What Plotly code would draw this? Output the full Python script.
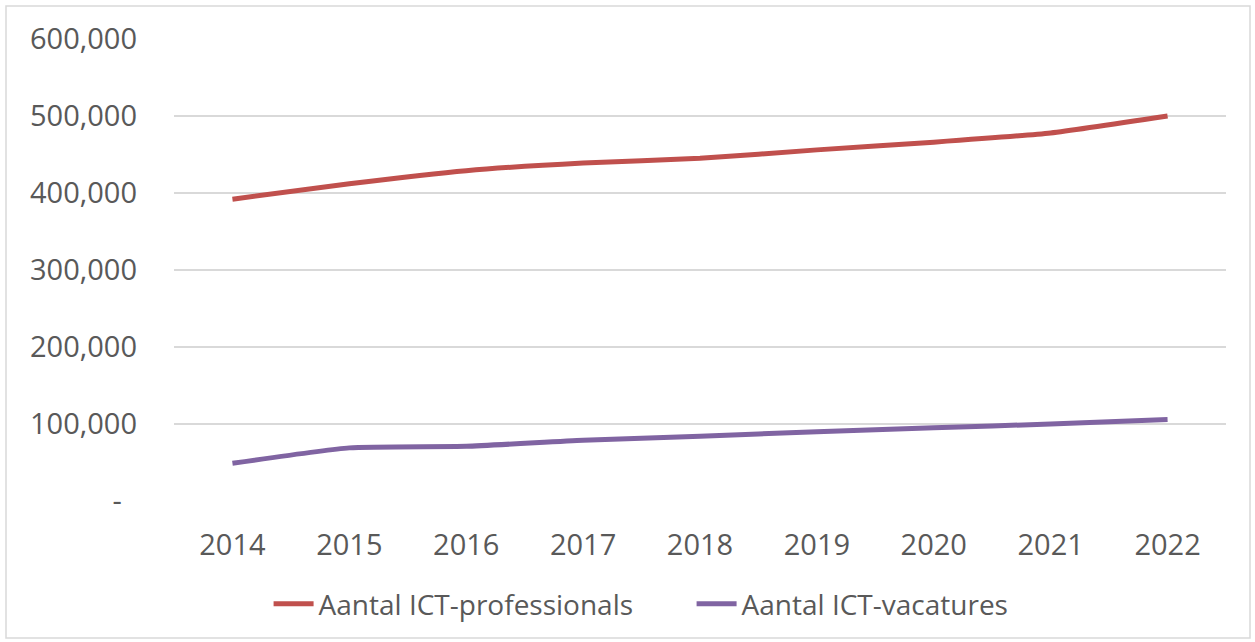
import plotly.graph_objects as go

years = ["2014", "2015", "2016", "2017", "2018", "2019", "2020", "2021", "2022"]
professionals = [392000, 412000, 429000, 439000, 445000, 456000, 466000, 478000, 500000]
vacatures = [49000, 69000, 71000, 79000, 84000, 90000, 95000, 100000, 106000]

y_ticks = [0, 100000, 200000, 300000, 400000, 500000, 600000]
y_ticktext = ["-\u00a0\u00a0", "100,000", "200,000", "300,000", "400,000", "500,000", "600,000"]

W, H = 1255, 642
L, R, T, B = 174, 29, 39, 141
pw, ph = W - L - R, H - T - B

fig = go.Figure()
fig.add_trace(go.Scatter(x=years, y=professionals, mode="lines", name="Aantal ICT-professionals",
                         line=dict(color="#C0504D", width=5, shape="spline", smoothing=0.5)))
fig.add_trace(go.Scatter(x=years, y=vacatures, mode="lines", name="Aantal ICT-vacatures",
                         line=dict(color="#8064A2", width=5, shape="spline", smoothing=0.5)))

# light grey border round the whole chart area
fig.add_shape(type="rect", xref="paper", yref="paper",
              x0=(6 - L) / pw, x1=(1250 - L) / pw,
              y0=(H - B - 638) / ph, y1=(H - B - 6) / ph,
              line=dict(color="#D9D9D9", width=1.5), fillcolor="rgba(0,0,0,0)", layer="below")

fig.update_layout(
    width=W, height=H,
    margin=dict(l=L, r=R, t=T, b=B),
    paper_bgcolor="white", plot_bgcolor="white",
    font=dict(family="Open Sans", size=29, color="#595959"),
    showlegend=True,
    legend=dict(orientation="h", x=0.492, xanchor="center", y=-0.223, yanchor="middle",
                font=dict(size=28, color="#595959"), itemwidth=40,
                entrywidth=368, entrywidthmode="pixels"),
)
fig.update_xaxes(range=[-0.5, 8.5], showgrid=False, showline=False, zeroline=False,
                 ticks="", ticklabelstandoff=24)
fig.update_yaxes(range=[0, 600000], tickvals=y_ticks, ticktext=y_ticktext,
                 showgrid=True, gridcolor="#D9D9D9", gridwidth=1.5,
                 zeroline=False, showline=False, ticks="", ticklabelstandoff=36)

fig.write_html("out.html", config={"displayModeBar": False},
               post_script="document.body.style.margin='0';")
